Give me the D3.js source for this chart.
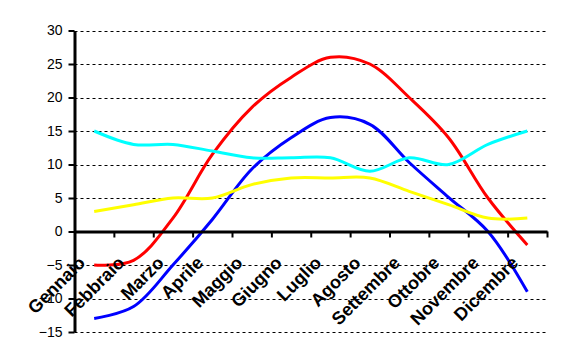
<!DOCTYPE html>
<html>
<head>
<meta charset="utf-8">
<script src="https://cdn.jsdelivr.net/npm/d3@7"></script>
<style>
  body { margin: 0; background: #fff; }
  svg { display: block; font-family: "Liberation Sans", Arial, sans-serif; }
</style>
</head>
<body>
<script>
var months = ["Gennaio", "Febbraio", "Marzo", "Aprile", "Maggio", "Giugno",
              "Luglio", "Agosto", "Settembre", "Ottobre", "Novembre", "Dicembre"];

var tempMax = [-5, -4.3, 2, 11.5, 18.5, 23, 26, 25, 20, 14, 5, -2];
var tempMin = [-13, -11.2, -5, 1.8, 9.3, 14, 17, 16, 10.3, 5.1, 0, -9];
var seriesCyan = [15, 13, 13, 12, 11, 11, 11, 9, 11, 10, 13, 15];
var seriesYellow = [3, 4, 5, 5, 7, 8, 8, 8, 6, 4, 2, 2];

var yTicks = [-15, -10, -5, 0, 5, 10, 15, 20, 25, 30];

var width = 563, height = 362;
var plotLeft = 74.5, plotRight = 547, plotTop = 30.5, plotBottom = 332;

var svg = d3.select("body").append("svg")
    .attr("width", width)
    .attr("height", height);

var x = d3.scaleBand()
    .domain(months)
    .range([plotLeft, plotRight]);

var y = d3.scaleLinear()
    .domain([-15, 30])
    .range([plotBottom, plotTop]);

// scale over the band edges, for the category tick marks
var xEdges = d3.scaleLinear()
    .domain([0, months.length])
    .range([plotLeft, plotRight]);

function cx(i) { return x(months[i]) + x.bandwidth() / 2; }

// dashed gridlines
svg.append("g")
  .selectAll("line")
  .data(yTicks.filter(function(d) { return d !== 0; }))
  .enter().append("line")
    .attr("x1", plotLeft)
    .attr("x2", plotRight)
    .attr("y1", function(d) { return Math.round(y(d)) + 0.5; })
    .attr("y2", function(d) { return Math.round(y(d)) + 0.5; })
    .attr("stroke", "#000")
    .attr("stroke-width", 1)
    .attr("stroke-dasharray", "3,3");

// series
var line = d3.line()
    .x(function(d, i) { return cx(i); })
    .y(function(d) { return y(d); })
    .curve(d3.curveCatmullRom.alpha(0.5));

var series = [
  {values: tempMin, color: "#0000ff"},
  {values: tempMax, color: "#ff0000"},
  {values: seriesYellow, color: "#ffff00"},
  {values: seriesCyan, color: "#00ffff"}
];

svg.append("g")
  .selectAll("path")
  .data(series)
  .enter().append("path")
    .attr("d", function(s) { return line(s.values); })
    .attr("fill", "none")
    .attr("stroke", function(s) { return s.color; })
    .attr("stroke-width", 3);

// y axis
var yAxis = svg.append("g")
    .attr("transform", "translate(" + plotLeft + ",0)")
    .call(d3.axisLeft(y).tickValues(yTicks).tickSizeInner(6).tickSizeOuter(0).tickPadding(6));

yAxis.select(".domain").attr("stroke-width", 3);
yAxis.selectAll(".tick line").attr("stroke-width", 2);
yAxis.selectAll(".tick text")
    .attr("font-size", 14)
    .attr("font-family", "'Liberation Sans', Arial, sans-serif")
    .attr("fill", "#000");

// x axis at zero
var xAxis = svg.append("g")
    .attr("transform", "translate(0," + y(0) + ")")
    .call(d3.axisBottom(xEdges).ticks(months.length).tickSizeInner(6).tickSizeOuter(0).tickFormat(""));

xAxis.select(".domain").attr("stroke-width", 3);
xAxis.selectAll(".tick line").attr("stroke-width", 2);

// rotated month labels
svg.append("g")
  .selectAll("text")
  .data(months)
  .enter().append("text")
    .attr("transform", function(d, i) {
      return "translate(" + (cx(i) - 8) + ",264) rotate(-45)";
    })
    .attr("text-anchor", "end")
    .attr("font-size", 18)
    .attr("font-weight", "bold")
    .attr("fill", "#000")
    .text(function(d) { return d; });
</script>
</body>
</html>
